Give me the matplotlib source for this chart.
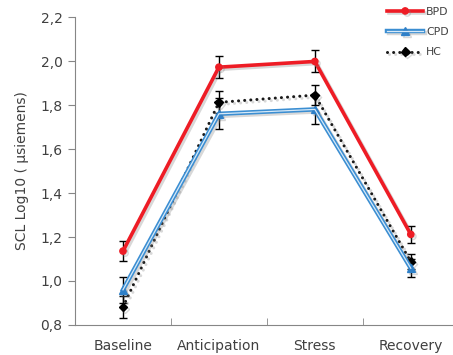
import numpy as np
import matplotlib.pyplot as plt
import matplotlib.patheffects as pe

# Skin conductance level per phase (log10 microsiemens), mean and SE
phases = ["Baseline", "Anticipation", "Stress", "Recovery"]
bpd = [1.136, 1.972, 1.998, 1.212]
bpd_err = [0.045, 0.05, 0.05, 0.04]
cpd = [0.960, 1.760, 1.780, 1.058]
cpd_err = [0.06, 0.07, 0.065, 0.04]
hc = [0.882, 1.812, 1.845, 1.088]
hc_err = [0.05, 0.05, 0.045, 0.035]

txt = "#404040"
plt.rcParams["font.family"] = ["DejaVu Sans"]

fig = plt.figure(figsize=(4.53, 3.55), dpi=100)
ax = fig.add_axes([75 / 453, 30 / 355, 1 - 75 / 453, 308 / 355])
x = np.arange(len(phases))

shadow = [pe.SimpleLineShadow(offset=(1.5, -1.5), shadow_color="grey", alpha=0.3), pe.Normal()]

# error bars first, lines on top
for vals, errs in [(bpd, bpd_err), (cpd, cpd_err), (hc, hc_err)]:
    ax.errorbar(x, vals, yerr=errs, fmt="none", ecolor="black", elinewidth=1,
                capsize=3, capthick=1, zorder=2)

hc_line, = ax.plot(x, hc, color="#1a1a1a", lw=2.2, ls=(0, (0.01, 2.0)),
                   dash_capstyle="round", marker="D", ms=4.5, mfc="black", mec="black",
                   path_effects=shadow, zorder=3)
cpd_line, = ax.plot(x, cpd, color="#3b8ed2", lw=3.2, marker="^", ms=5.5, mfc="#2f80c8",
                    mec="#2f80c8", path_effects=shadow, zorder=4)
cpd_inner, = ax.plot(x, cpd, color="#d6e9f8", lw=0.9, zorder=4.1)
bpd_line, = ax.plot(x, bpd, color="#ee1c25", lw=2.6, marker="o", ms=4.5, mfc="#ee1c25",
                    mec="#ee1c25", path_effects=shadow, zorder=5)

ax.set_xlim(-0.5, 3.44)
ax.set_ylim(0.8, 2.2)
ax.set_yticks(np.arange(0.8, 2.21, 0.2))
ax.set_yticklabels([f"{v:.1f}".replace(".", ",") for v in np.arange(0.8, 2.21, 0.2)])
ax.set_xticks(x)
ax.set_xticklabels(phases)
ax.set_xticks([0.5, 1.5, 2.5], minor=True)
ax.tick_params(axis="x", which="major", length=0, pad=10, labelsize=10, colors=txt)
ax.tick_params(axis="x", which="minor", direction="in", length=5, color="#868686")
ax.tick_params(axis="y", length=5, color="#868686", labelsize=10, colors=txt, pad=4)
ax.set_ylabel("SCL Log10 ( µsiemens)", fontsize=10, color=txt, labelpad=8)

for s in ["top", "right"]:
    ax.spines[s].set_visible(False)
for s in ["left", "bottom"]:
    ax.spines[s].set_color("#868686")

ax.legend([bpd_line, (cpd_line, cpd_inner), hc_line], ["BPD", "CPD", "HC"],
          loc="upper right", bbox_to_anchor=(1.015, 1.065), frameon=False,
          fontsize=7.8, handlelength=3.3, labelspacing=0.95, labelcolor=txt,
          handletextpad=0.3)

fig.savefig("out.png", dpi=100)
